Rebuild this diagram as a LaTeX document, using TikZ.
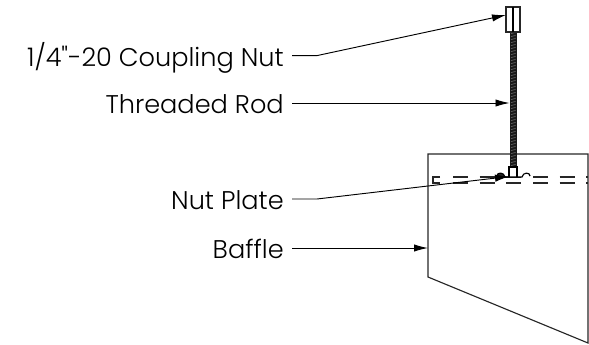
\documentclass[tikz,border=0pt]{standalone}
\usepackage{fontspec}
\newfontfamily\labelfont{Poppins Light}
\usetikzlibrary{arrows.meta}
\tikzset{
	partlabel/.style={anchor=base east, inner sep=0pt, font=\labelfont\fontsize{19.2pt}{22pt}\selectfont, text=black},
	leader/.style={line width=0.7pt, -{Latex[length=10.5pt,width=5.5pt]}},
	outline/.style={line width=0.85pt, color=black!85},
	hidden/.style={line width=0.85pt, color=black!85, dash pattern=on 11.25pt off 8.75pt},
}
\begin{document}
\begin{tikzpicture}[x=0.75pt, y=-0.75pt]
		%%%%% START %%%%%
		\useasboundingbox (0, 0) rectangle (589, 344);
		
		% baffle
		\draw[outline] (428, 154) -- (588, 154) -- (588, 343) -- (428, 277) -- cycle;
		
		% hidden edge of the plate
		\draw[line width=0.85pt, color=black!85] (440, 177) -- (433, 177) -- (433, 183) -- (440, 183);
		\draw[hidden] (453, 177) -- (588, 177);
		\draw[hidden] (453, 183) -- (588, 183);
		
		% threaded rod
		\fill[black!90] (509.5, 32) rectangle (517, 167);
		\foreach \i in {0,...,44} {
			\draw[line width=0.4pt, color=black!55] (511, {33.5+3*\i}) -- (515.5, {32.5+3*\i});
		}
		
		% coupling nut
		\draw[outline, fill=white] (506, 7) rectangle (520, 32);
		\draw[line width=1pt] (513, 7) -- (513, 32);
		
		% nut plate
		\fill[white] (505, 171) rectangle (522, 176.5);
		\draw[line width=0.85pt, fill=white] (509, 177) -- (509, 167) -- (517, 167) -- (517, 177);
		\draw[line width=0.9pt, fill=black!85] (497, 176) .. controls (497, 172) and (504, 172) .. (505, 177) -- cycle;
		\draw[line width=0.85pt] (505, 177) -- (522, 177) .. controls (523, 172) and (530, 172) .. (530, 176);
		
		% labels
		\node[partlabel] (couplingnut) at (284, 66) {1/4"-20 Coupling Nut};
		\node[partlabel] (threadedrod) at (284, 113) {Threaded Rod};
		\node[partlabel] (nutplate) at (284, 209) {Nut Plate};
		\node[partlabel] (baffle) at (284, 258) {Baffle};
		
		\coordinate (nuttip) at (506, 15);
		\coordinate (rodtip) at (509.5, 103);
		\coordinate (platetip) at (509, 176.5);
		\coordinate (baffletip) at (428, 248);
		
		\draw[leader] ([shift={(6pt,7.8pt)}]couplingnut.base east) -- ++(25, 0) -- (nuttip);
		\draw[leader] ([shift={(6pt,7.5pt)}]threadedrod.base east) -- (rodtip);
		\draw[leader] ([shift={(6pt,7.5pt)}]nutplate.base east) -- ++(25, 0) -- (platetip);
		\draw[leader] ([shift={(6pt,7.5pt)}]baffle.base east) -- (baffletip);
		
		%%%%% END %%%%%
	\end{tikzpicture}
\end{document}
